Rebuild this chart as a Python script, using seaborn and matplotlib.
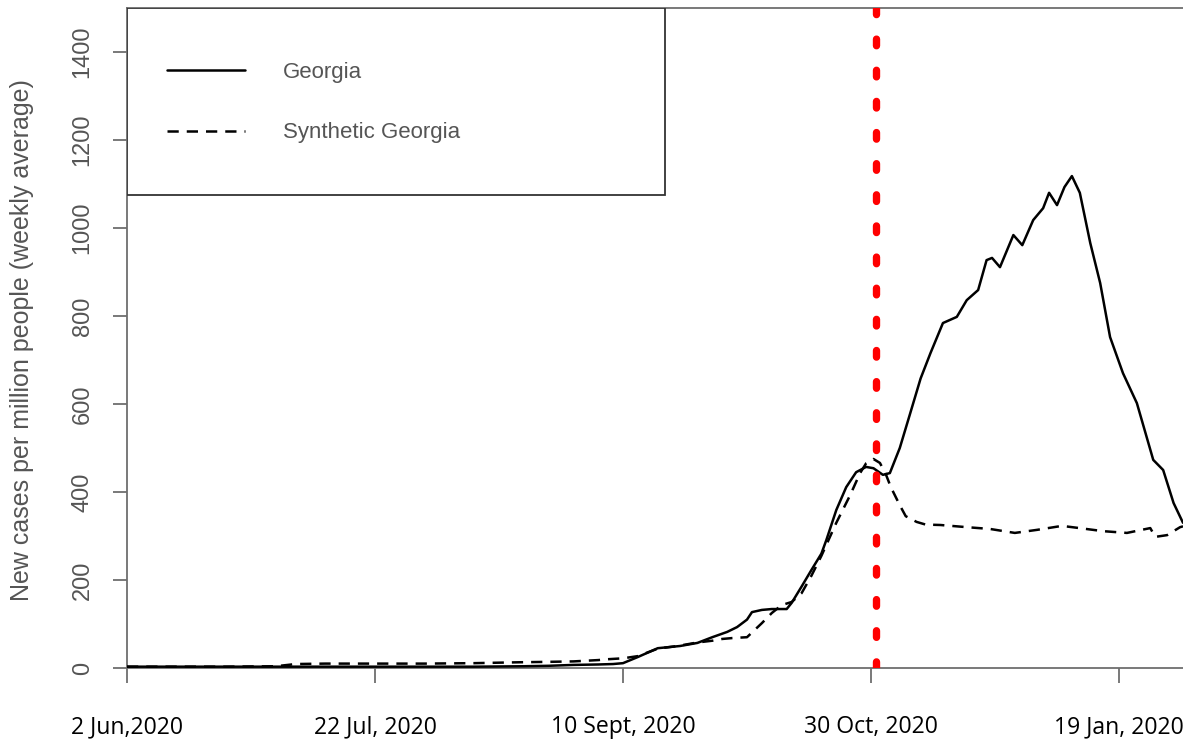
import numpy as np
import matplotlib.pyplot as plt
from matplotlib.patches import Rectangle
import seaborn as sns

# days since 2 Jun 2020 and weekly-average new cases per million
georgia_days = [0, 10, 20, 30, 40, 50, 60, 70, 80, 85, 90, 95, 98, 100, 103, 107,
                111.5, 115, 118, 121, 123, 125, 126, 128, 130, 133, 134, 136, 138,
                140, 141, 143, 145, 147, 149, 150.5, 152.4, 153.8, 155.8, 157.8,
                160, 162, 164.5, 167.3, 169.3, 171.6, 173.3, 174.4, 176, 178.7,
                180.5, 182.7, 184.7, 185.9, 187.5, 189, 190.5, 192.1, 194.2, 196.2,
                198.2, 200.8, 203.6, 206.9, 208.9, 211, 212.9]
georgia_cases = [3, 3, 3, 3, 3, 3, 3, 3, 4, 5, 7, 8, 9, 11, 25, 45,
                 50, 57, 70, 82, 93, 110, 127, 132, 134, 134, 148, 185, 223,
                 260, 291, 359, 411, 445, 457, 454, 439, 443, 500, 575,
                 658, 716, 784, 798, 836, 859, 927, 932, 911, 984,
                 961, 1018, 1045, 1080, 1052, 1093, 1118, 1080, 966, 875,
                 752, 670, 602, 473, 450, 375, 330]

synth_days = [0, 10, 20, 30, 34, 40, 50, 60, 70, 79, 85, 90, 95, 97, 100, 103,
              107, 111, 115, 118, 120, 122, 125, 128, 130, 132, 134, 136, 138,
              140, 143, 145.8, 147.8, 149, 150.5, 151.8, 153, 154, 155.8, 157,
              159.2, 161, 164, 169.4, 174, 179, 183.5, 188.5, 192, 196.8, 201.6,
              206.3, 207.3, 209.7, 212.3, 212.9]
synth_cases = [3, 3, 3, 4, 9, 10, 10, 10, 11, 13, 14, 15, 18, 20, 22, 27,
               44, 50, 58, 62, 66, 68, 70, 102, 125, 143, 150, 170, 210,
               255, 330, 393, 443, 465, 475, 466, 440, 411, 370, 345,
               332, 326, 325, 320, 316, 307, 314, 323, 318, 311, 307,
               318, 298, 302, 320, 322]

tick_days = [0, 50, 100, 150, 200]
tick_labels = ["2 Jun,2020", "22 Jul, 2020", "10 Sept, 2020", "30 Oct, 2020", "19 Jan, 2020"]
y_ticks = [0, 200, 400, 600, 800, 1000, 1200, 1400]
intervention_day = 151

sns.set_style("white")
plt.rcParams['font.family'] = ['Liberation Sans', 'DejaVu Sans']

axis_grey = "#6e6e6e"
text_grey = "#555555"

fig = plt.figure(figsize=(11.83, 7.40), dpi=100)
ax = fig.add_axes([127 / 1183, 72 / 740, 1056 / 1183, 660 / 740])

sns.lineplot(x=georgia_days, y=georgia_cases, ax=ax, color="black",
             linewidth=1.8, label="Georgia", zorder=3)
sns.lineplot(x=synth_days, y=synth_cases, ax=ax, color="black",
             linewidth=1.8, linestyle=(0, (4.5, 3.2)), label="Synthetic Georgia", zorder=3)

# intervention date
ax.axvline(intervention_day, color="red", linewidth=5.3,
           linestyle=(0, (0.9, 3.33)), dash_capstyle="round", zorder=4)

ax.set_xlim(0, 212.9)
ax.set_ylim(0, 1500)

ax.set_xticks(tick_days)
ax.set_xticklabels(tick_labels, family="Open Sans", fontsize=16.6, color="black")
ax.set_yticks(y_ticks)
ax.set_yticklabels([str(v) for v in y_ticks], fontsize=17, color=text_grey,
                   rotation=90, va="center")

ax.tick_params(axis="x", direction="out", length=11, width=1.3, color=axis_grey, pad=23, bottom=True)
ax.tick_params(axis="y", direction="out", length=10, width=1.3, color=axis_grey, pad=14, left=True)

ax.set_ylabel("New cases per million people (weekly average)", fontsize=18,
              color=text_grey, va="center")
ax.yaxis.set_label_coords(-0.0994, 0.497)
ax.set_xlabel("")

for side in ["left", "top", "bottom"]:
    ax.spines[side].set_color(axis_grey)
    ax.spines[side].set_linewidth(1.3)
ax.spines["right"].set_visible(False)

# legend box in the upper-left corner
ax.add_patch(Rectangle((0, (668 - 195) / 660), (665 - 127) / 1056, (195 - 8) / 660,
                       transform=ax.transAxes, facecolor="white",
                       edgecolor="#333333", linewidth=1.3, zorder=5))
leg = ax.legend(loc="upper left", bbox_to_anchor=((167 - 127) / 1056, 0.9185),
                frameon=False, fontsize=16, borderpad=0, borderaxespad=0,
                handlelength=3.5, handletextpad=1.7, labelspacing=1.78,
                labelcolor=text_grey)
leg.set_zorder(6)

fig.savefig("out.png", dpi=100)
